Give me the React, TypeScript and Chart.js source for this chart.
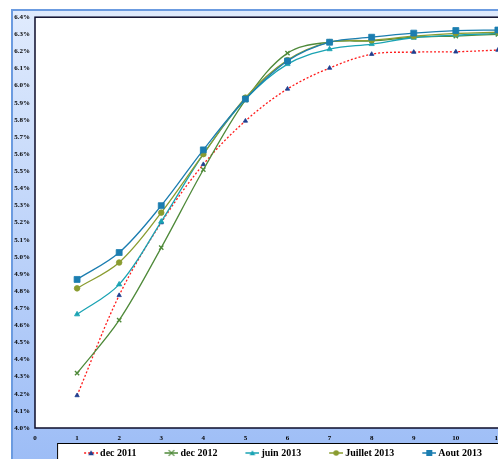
import React, { useEffect, useRef } from 'react';
import { Chart, registerables } from 'chart.js';

Chart.register(...registerables);

// ---- data ----
const xPoints = [1, 2, 3, 4, 5, 6, 7, 8, 9, 10, 11];
const seriesNames = ['dec 2011', 'dec 2012', 'juin 2013', 'Juillet 2013', 'Aout 2013'];
const dec2011 = [4.19, 4.775, 5.2, 5.54, 5.794, 5.981, 6.103, 6.184, 6.196, 6.198, 6.208];
const dec2012 = [4.32, 4.63, 5.054, 5.509, 5.916, 6.19, 6.255, 6.262, 6.283, 6.29, 6.3];
const juin2013 = [4.664, 4.839, 5.206, 5.6, 5.92, 6.126, 6.213, 6.243, 6.28, 6.295, 6.305];
const juillet2013 = [4.816, 4.967, 5.258, 5.6, 5.93, 6.149, 6.254, 6.265, 6.289, 6.305, 6.312];
const aout2013 = [4.868, 5.025, 5.299, 5.625, 5.922, 6.144, 6.254, 6.283, 6.307, 6.322, 6.325];
const yTickMin = 4.0;
const yTickMax = 6.4;
const yTickStep = 0.1;
const xTickMin = 0;
const xTickMax = 12;

const W = 560;
const H = 470;

type Marker = 'triangle' | 'crossRot' | 'circle' | 'rect';

const styles: { line: string; dash: number[]; marker: Marker; mFill: string; mStroke: string; radius: number }[] = [
  { line: '#ff1a1a', dash: [2, 2], marker: 'triangle', mFill: '#1f3f8f', mStroke: '#1f3f8f', radius: 2.5 },
  { line: '#4f8a3a', dash: [], marker: 'crossRot', mFill: '#4f8a3a', mStroke: '#4f8a3a', radius: 3 },
  { line: '#1aa3b3', dash: [], marker: 'triangle', mFill: '#1aa3b3', mStroke: '#1aa3b3', radius: 3 },
  { line: '#8a9c30', dash: [], marker: 'circle', mFill: '#8a9c30', mStroke: '#8a9c30', radius: 2.8 },
  { line: '#1b7db0', dash: [], marker: 'rect', mFill: '#1b7db0', mStroke: '#1b7db0', radius: 4.2 },
];

function drawMarker(ctx: CanvasRenderingContext2D, m: Marker, cx: number, cy: number, r: number, fill: string, stroke: string) {
  ctx.save();
  ctx.fillStyle = fill;
  ctx.strokeStyle = stroke;
  ctx.lineWidth = 1.2;
  ctx.setLineDash([]);
  ctx.beginPath();
  if (m === 'triangle') {
    ctx.moveTo(cx, cy - r);
    ctx.lineTo(cx + r, cy + r * 0.8);
    ctx.lineTo(cx - r, cy + r * 0.8);
    ctx.closePath();
    ctx.fill();
  } else if (m === 'circle') {
    ctx.arc(cx, cy, r, 0, Math.PI * 2);
    ctx.fill();
  } else if (m === 'rect') {
    const s = r * 0.75;
    ctx.rect(cx - s, cy - s, s * 2, s * 2);
    ctx.fill();
  } else {
    ctx.moveTo(cx - r, cy - r);
    ctx.lineTo(cx + r, cy + r);
    ctx.moveTo(cx + r, cy - r);
    ctx.lineTo(cx - r, cy + r);
    ctx.stroke();
  }
  ctx.restore();
}

function makeLegendImage(i: number): HTMLCanvasElement {
  const c = document.createElement('canvas');
  c.width = 35;
  c.height = 12;
  const ctx = c.getContext('2d')!;
  const st = styles[i];
  ctx.strokeStyle = st.line;
  ctx.lineWidth = 1.5;
  ctx.setLineDash(st.dash);
  ctx.beginPath();
  ctx.moveTo(21, 6);
  ctx.lineTo(35, 6);
  ctx.stroke();
  drawMarker(ctx, st.marker, 28, 6, st.marker === 'rect' ? 4 : 2.8, st.mFill, st.mStroke);
  return c;
}

const bgPlugin = {
  id: 'bgPlugin',
  beforeDraw(chart: any) {
    const { ctx, chartArea } = chart;
    const lg = chart.legend;
    if (lg) {
      const h = lg.height;
      lg.top = chartArea.bottom + 10;
      lg.bottom = lg.top + h;
    }
    ctx.save();
    ctx.fillStyle = '#ffffff';
    ctx.fillRect(0, 0, W, H);
    const g = ctx.createLinearGradient(0, 1, 0, 451);
    g.addColorStop(0, '#e0ebfd');
    g.addColorStop(1, '#9dbdf6');
    ctx.fillStyle = g;
    ctx.fillRect(3, 1, W, H);
    ctx.strokeStyle = '#6b9be0';
    ctx.lineWidth = 2;
    ctx.beginPath();
    ctx.moveTo(4, H);
    ctx.lineTo(4, 2);
    ctx.lineTo(W, 2);
    ctx.stroke();
    // plot area
    ctx.fillStyle = '#ffffff';
    ctx.fillRect(chartArea.left, chartArea.top, chartArea.right - chartArea.left, chartArea.bottom - chartArea.top);
    ctx.strokeStyle = '#0c0c2a';
    ctx.lineWidth = 1.5;
    ctx.strokeRect(chartArea.left, chartArea.top, chartArea.right - chartArea.left, chartArea.bottom - chartArea.top);
    // legend box
    if (lg && lg.legendHitBoxes && lg.legendHitBoxes.length) {
      const hb = lg.legendHitBoxes;
      const first = hb[0];
      const last = hb[hb.length - 1];
      const cy = lg.top + 15;
      const left = first.left - 9;
      const right = last.left + last.width + 30;
      ctx.fillStyle = '#ffffff';
      ctx.fillRect(left, cy - 10, right - left, 40);
      ctx.strokeStyle = '#000000';
      ctx.lineWidth = 1;
      ctx.strokeRect(left + 0.5, cy - 10 + 0.5, right - left, 40);
    }
    ctx.restore();
  },
};

const tickFont = { family: "'Liberation Serif', 'Times New Roman', serif", size: 7, weight: 'bold' as const };

export default function App() {
  const ref = useRef<HTMLCanvasElement | null>(null);

  useEffect(() => {
    if (!ref.current) return;
    const all = [dec2011, dec2012, juin2013, juillet2013, aout2013];
    const legendImgs = seriesNames.map((_, i) => makeLegendImage(i));
    const chart = new Chart(ref.current, {
      type: 'line',
      data: {
        datasets: all.map((arr, i) => ({
          label: seriesNames[i],
          data: arr.map((v, k) => ({ x: xPoints[k], y: v })),
          borderColor: styles[i].line,
          borderDash: styles[i].dash,
          borderWidth: 1.3,
          backgroundColor: styles[i].mFill,
          pointStyle: styles[i].marker,
          pointRadius: styles[i].radius,
          pointBackgroundColor: styles[i].mFill,
          pointBorderColor: styles[i].mStroke,
          pointBorderWidth: styles[i].marker === 'crossRot' ? 1.4 : 0.8,
          tension: 0.35,
          fill: false,
          order: 4 - i,
        })),
      },
      options: {
        animation: false,
        responsive: false,
        layout: { padding: { left: 0, top: 8, right: 28, bottom: 6 } },
        scales: {
          x: {
            type: 'linear',
            min: xTickMin,
            max: xTickMax,
            ticks: { stepSize: 1, font: tickFont, color: '#000', padding: 6, maxRotation: 0, autoSkip: false },
            grid: { display: false, drawTicks: false },
            border: { display: false },
            afterFit: (s: any) => {
              s.height = 14;
            },
          },
          y: {
            type: 'linear',
            min: yTickMin,
            max: yTickMax,
            ticks: {
              stepSize: yTickStep,
              font: tickFont,
              color: '#000',
              padding: 5,
              autoSkip: false,
              callback: (v: any) => Number(v).toFixed(1) + '%',
            },
            grid: { display: false, drawTicks: false },
            border: { display: false },
            afterFit: (s: any) => {
              s.width = 27;
            },
          },
        },
        plugins: {
          tooltip: { enabled: false },
          legend: {
            position: 'bottom',
            labels: {
              usePointStyle: true,
              pointStyleWidth: 29,
              boxHeight: 10,
              padding: 10,
              color: '#000',
              font: { family: "'Liberation Serif', 'Times New Roman', serif", size: 10, weight: 'bold' },
              generateLabels: (ch: any) =>
                ch.data.datasets.map((ds: any, i: number) => ({
                  text: ds.label,
                  pointStyle: legendImgs[i],
                  fillStyle: 'transparent',
                  strokeStyle: 'transparent',
                  lineWidth: 0,
                  hidden: false,
                  datasetIndex: i,
                })),
            },
          },
        },
      },
      plugins: [bgPlugin],
    });
    return () => chart.destroy();
  }, []);

  return (
    <div style={{ position: 'fixed', left: 8, top: 8, width: 490, height: 451, overflow: 'hidden' }}>
      <canvas ref={ref} width={W} height={H} style={{ display: 'block', width: W, height: H }} />
    </div>
  );
}
